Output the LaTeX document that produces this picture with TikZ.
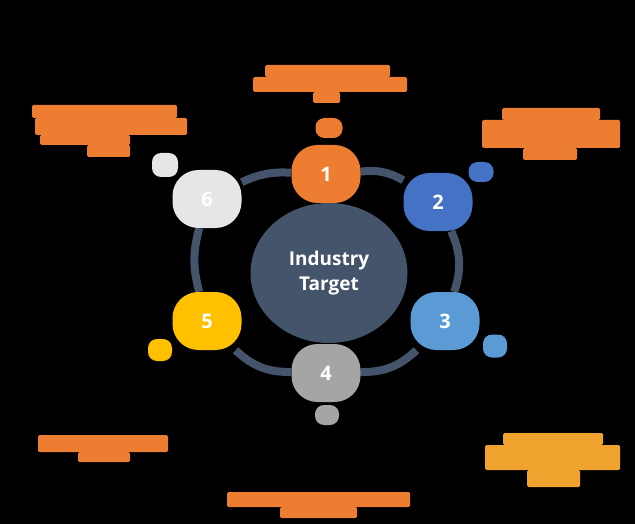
\documentclass[tikz,border=0pt]{standalone}
\usepackage{fontspec}
\setmainfont{Open Sans}
\usetikzlibrary{shapes.geometric}
\definecolor{cOrange}{HTML}{ED7D31}
\definecolor{cBlue}{HTML}{4472C4}
\definecolor{cLBlue}{HTML}{5B9BD5}
\definecolor{cGrey}{HTML}{A5A5A5}
\definecolor{cGold}{HTML}{FFC000}
\definecolor{cLGrey}{HTML}{E6E6E6}
\definecolor{cSlate}{HTML}{44546A}
\definecolor{cAmber}{HTML}{F0A22E}
\pgfdeclarelayer{bottom}
\pgfdeclarelayer{ringlayer}
\pgfsetlayers{bottom,ringlayer,main}
\begin{document}
\begin{tikzpicture}[x=1pt,y=1pt,
  stepnode/.style={rectangle, rounded corners=26pt, minimum width=69pt, minimum height=58pt, inner sep=0pt,
     text=white, font=\bfseries\fontsize{20}{22}\selectfont},
  dotnode/.style={rectangle, rounded corners=9pt, inner sep=0pt},
  tblk/.style={rectangle, rounded corners=1.5pt, inner sep=0pt, fill=cOrange},
  tblkA/.style={tblk, fill=cAmber},
  ringseg/.style={draw=cSlate, line width=8pt}
]
\useasboundingbox (0,0) rectangle (635,-524);
\begin{pgfonlayer}{bottom}
\fill[black] (0,0) rectangle (635,-524);
\end{pgfonlayer}

% centre
\node[ellipse, fill=cSlate, minimum width=157pt, minimum height=140pt, inner sep=0pt,
      text=white, align=center, font=\bfseries\fontsize{19}{25}\selectfont] (centre) at (329,-273) {Industry\\Target};

% step nodes
\node[stepnode, fill=cOrange] (n1) at (326,-174) {1};
\node[stepnode, fill=cBlue]   (n2) at (438,-202) {2};
\node[stepnode, fill=cLBlue]  (n3) at (445,-321) {3};
\node[stepnode, fill=cGrey]   (n4) at (326,-373) {4};
\node[stepnode, fill=cGold]   (n5) at (207,-321) {5};
\node[stepnode, fill=cLGrey]  (n6) at (207,-199) {6};

% ring connectors
\begin{pgfonlayer}{ringlayer}
\draw[ringseg] (n1) to[bend left=18] (n2);
\draw[ringseg] (n2) to[bend left=21] (n3);
\draw[ringseg] (n3) to[bend left=22] (n4);
\draw[ringseg] (n4) to[bend left=22] (n5);
\draw[ringseg] (n5) to[bend left=15] (n6);
\draw[ringseg] (n6) to[bend left=14] (n1);
\end{pgfonlayer}

% small dots
\node[dotnode, fill=cOrange, minimum width=27pt, minimum height=20pt] (d1) at (329,-128) {};
\node[dotnode, fill=cBlue,   minimum width=25pt, minimum height=20pt] (d2) at (481,-172) {};
\node[dotnode, fill=cLBlue,  minimum width=24pt, minimum height=23pt] (d3) at (495,-346) {};
\node[dotnode, fill=cGrey,   minimum width=24pt, minimum height=20pt] (d4) at (327,-415) {};
\node[dotnode, fill=cGold,   minimum width=24pt, minimum height=22pt] (d5) at (160,-350) {};
\node[dotnode, fill=cLGrey,  minimum width=26pt, minimum height=24pt] (d6) at (165,-165) {};

% text blocks (illegible in the reference)
\node[tblk, minimum width=125pt, minimum height=12pt] (t1a) at (327.5,-71) {};
\node[tblk, minimum width=154pt, minimum height=15pt] (t1b) at (330,-84.5) {};
\node[tblk, minimum width=27pt,  minimum height=11pt] (t1c) at (326.5,-97.5) {};

\node[tblk, minimum width=145pt, minimum height=13pt] (t2a) at (104.5,-111.5) {};
\node[tblk, minimum width=152pt, minimum height=17pt] (t2b) at (111,-126.5) {};
\node[tblk, minimum width=90pt,  minimum height=10pt] (t2c) at (85,-140) {};
\node[tblk, minimum width=43pt,  minimum height=12pt] (t2d) at (108.5,-151) {};

\node[tblk, minimum width=98pt,  minimum height=12pt] (t3a) at (551,-114) {};
\node[tblk, minimum width=138pt, minimum height=28pt] (t3b) at (551,-134) {};
\node[tblk, minimum width=54pt,  minimum height=12pt] (t3c) at (550,-154) {};

\node[tblk, minimum width=130pt, minimum height=17pt] (t4a) at (103,-443.5) {};
\node[tblk, minimum width=52pt,  minimum height=10pt] (t4b) at (104,-457) {};

\node[tblkA, minimum width=100pt, minimum height=12pt] (t5a) at (553,-439) {};
\node[tblkA, minimum width=135pt, minimum height=25pt] (t5b) at (552.5,-457.5) {};
\node[tblkA, minimum width=53pt,  minimum height=17pt] (t5c) at (553.5,-478.5) {};

\node[tblk, minimum width=183pt, minimum height=15pt] (t6a) at (318.5,-499.5) {};
\node[tblk, minimum width=77pt,  minimum height=11pt] (t6b) at (318.5,-512.5) {};
\end{tikzpicture}
\end{document}
